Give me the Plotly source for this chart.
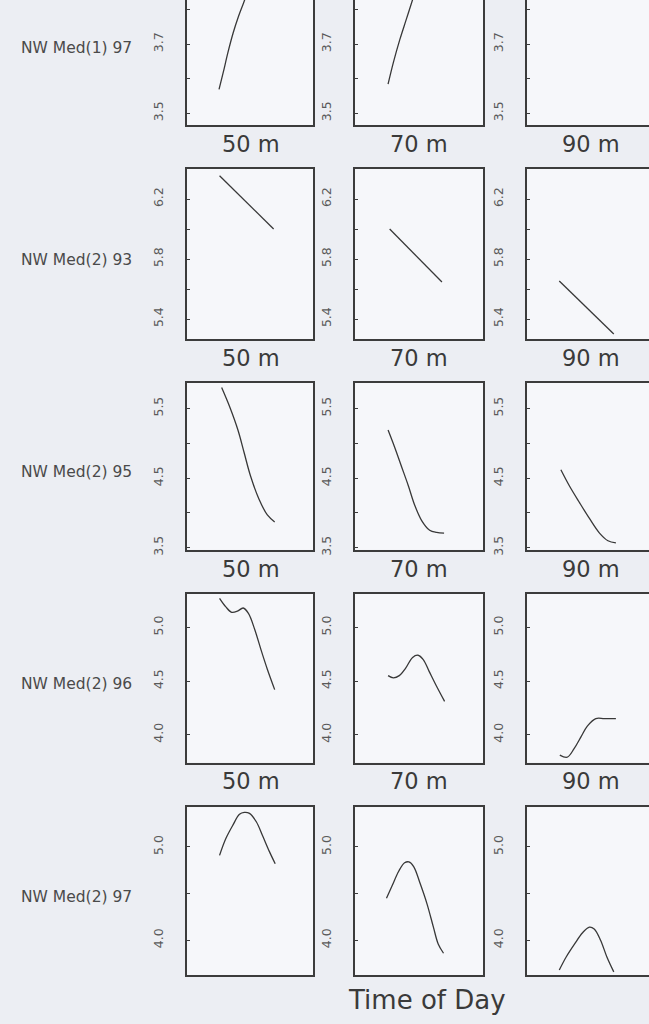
import plotly.graph_objects as go

W, H = 649, 1024

depth_labels = ["50 m", "70 m", "90 m"]
row_labels = ["NW Med(1) 97", "NW Med(2) 93", "NW Med(2) 95", "NW Med(2) 96", "NW Med(2) 97"]
x_title = "Time of Day"

# ---- data: hour of day and value, per row (station/year) and depth ----
r1_50_hour = [6.1, 6.9, 7.8, 8.8, 9.8, 11.0, 11.8]
r1_50_val = [3.569, 3.618, 3.676, 3.733, 3.780, 3.829, 3.870]
r1_70_hour = [6.2, 7.2, 8.4, 9.6, 10.8, 11.4]
r1_70_val = [3.584, 3.647, 3.713, 3.771, 3.829, 3.860]
r1_90_hour = []
r1_90_val = []

r2_50_hour = [6.2, 16.5]
r2_50_val = [6.355, 6.00]
r2_70_hour = [6.5, 16.3]
r2_70_val = [6.00, 5.647]
r2_90_hour = [6.1, 16.4]
r2_90_val = [5.653, 5.30]

r3_50_hour = [6.6, 8.2, 9.7, 10.9, 12.1, 13.7, 15.3, 16.7]
r3_50_val = [5.80, 5.51, 5.19, 4.86, 4.53, 4.20, 3.97, 3.87]
r3_70_hour = [6.2, 7.4, 8.7, 10.0, 11.2, 12.5, 14.0, 15.3, 16.7]
r3_70_val = [5.19, 4.95, 4.67, 4.39, 4.11, 3.89, 3.75, 3.72, 3.71]
r3_90_hour = [6.4, 8.0, 9.9, 11.8, 13.7, 15.3, 16.8]
r3_90_val = [4.62, 4.39, 4.15, 3.92, 3.71, 3.60, 3.57]

r4_50_hour = [6.2, 7.4, 8.5, 9.6, 10.7, 11.7, 12.9, 14.1, 15.3, 16.7]
r4_50_val = [5.27, 5.19, 5.14, 5.15, 5.18, 5.13, 4.98, 4.79, 4.61, 4.42]
r4_70_hour = [6.2, 7.2, 8.3, 9.5, 10.8, 11.8, 12.8, 13.9, 15.1, 16.8]
r4_70_val = [4.55, 4.53, 4.55, 4.62, 4.72, 4.74, 4.70, 4.59, 4.47, 4.31]
r4_90_hour = [6.2, 7.6, 8.9, 10.2, 11.4, 13.0, 14.6, 16.8]
r4_90_val = [3.81, 3.79, 3.87, 3.98, 4.08, 4.15, 4.15, 4.15]

r5_50_hour = [6.2, 7.4, 8.7, 10.0, 10.9, 11.9, 13.2, 14.4, 15.7, 16.8]
r5_50_val = [4.91, 5.09, 5.23, 5.35, 5.37, 5.36, 5.27, 5.12, 4.95, 4.82]
r5_70_hour = [5.9, 7.0, 8.2, 9.3, 10.1, 11.0, 12.2, 13.5, 14.7, 15.6, 16.6]
r5_70_val = [4.45, 4.59, 4.74, 4.83, 4.84, 4.79, 4.61, 4.39, 4.14, 3.96, 3.86]
r5_90_hour = [6.1, 7.4, 9.0, 10.5, 11.8, 12.7, 13.9, 15.1, 16.4]
r5_90_val = [3.68, 3.82, 3.96, 4.08, 4.14, 4.12, 4.00, 3.82, 3.66]

series = [
    [(r1_50_hour, r1_50_val), (r1_70_hour, r1_70_val), (r1_90_hour, r1_90_val)],
    [(r2_50_hour, r2_50_val), (r2_70_hour, r2_70_val), (r2_90_hour, r2_90_val)],
    [(r3_50_hour, r3_50_val), (r3_70_hour, r3_70_val), (r3_90_hour, r3_90_val)],
    [(r4_50_hour, r4_50_val), (r4_70_hour, r4_70_val), (r4_90_hour, r4_90_val)],
    [(r5_50_hour, r5_50_val), (r5_70_hour, r5_70_val), (r5_90_hour, r5_90_val)],
]

# y axis settings per row: range, labelled tick step, tick0, minor step
y_ranges = [[3.465, 3.828], [5.267, 6.40], [3.47, 5.87], [3.741, 5.315], [3.624, 5.426]]
y_dtick = [0.2, 0.4, 1.0, 0.5, 1.0]
y_tick0 = [3.5, 5.4, 3.5, 4.0, 4.0]
y_minor = [0.1, 0.2, 0.5, None, 0.5]

# ---- layout geometry (pixels) ----
col_px = [(187, 313), (355, 483), (527, 649)]
full_w = 127
row_px = [(0, 126), (170, 341), (385, 553), (597, 767), (812, 981)]

def px_x(p):
    return p / W

def px_y(p):
    return 1 - p / H

FONT = "DejaVu Sans, Liberation Sans, Arial, sans-serif"
AX = "#3c3c3c"
LINE = "#383838"

fig = go.Figure()
layout = dict(
    width=W, height=H,
    margin=dict(l=0, r=0, t=0, b=0),
    paper_bgcolor="#eceef3",
    plot_bgcolor="#f6f7fa",
    showlegend=False,
    font=dict(family=FONT, color="#444"),
)

annotations = []
for r in range(5):
    for c in range(3):
        k = r * 3 + c + 1
        xs, ys = series[r][c]
        xname = "x" if k == 1 else f"x{k}"
        yname = "y" if k == 1 else f"y{k}"
        if len(xs):
            fig.add_trace(go.Scatter(
                x=xs, y=ys, mode="lines", xaxis=xname, yaxis=yname,
                line=dict(color=LINE, width=1.3, shape="spline", smoothing=1.0),
                hoverinfo="skip", cliponaxis=True,
            ))
        else:
            fig.add_trace(go.Scatter(x=[None], y=[None], mode="lines",
                                     xaxis=xname, yaxis=yname, hoverinfo="skip"))
        x0, x1 = col_px[c]
        y0, y1 = row_px[r]
        xr = [0, 24] if c < 2 else [0, 24 * (x1 - x0) / full_w]
        xa = dict(
            domain=[px_x(x0), px_x(x1)], range=xr, anchor=yname,
            showline=True, linecolor=AX, linewidth=1.6,
            mirror=(r > 0), showgrid=False, zeroline=False,
            showticklabels=False, ticks="",
        )
        ya = dict(
            domain=[px_y(y1), px_y(y0)], range=y_ranges[r], anchor=xname,
            showline=True, linecolor=AX, linewidth=1.6,
            mirror=(c < 2), showgrid=False, zeroline=False,
            tick0=y_tick0[r], dtick=y_dtick[r], tickformat=".1f",
            ticks="inside", ticklen=3, tickcolor=AX, tickwidth=1,
            tickangle=-90, ticklabelstandoff=17,
            tickfont=dict(family=FONT, size=12.5, color="#5a5a5a"),
        )
        if y_minor[r]:
            ya["minor"] = dict(dtick=y_minor[r], tick0=y_tick0[r], ticks="inside",
                               ticklen=3, tickcolor=AX, tickwidth=1)
        layout["xaxis" if k == 1 else f"xaxis{k}"] = xa
        layout["yaxis" if k == 1 else f"yaxis{k}"] = ya

        if r < 4:
            cx = (x0 + (x0 + full_w)) / 2
            annotations.append(dict(
                text=depth_labels[c], x=px_x(cx), y=px_y(y1 + 19),
                xref="paper", yref="paper", showarrow=False,
                xanchor="center", yanchor="middle",
                font=dict(family=FONT, size=22.5, color="#3a3a3a"),
            ))
    cy = (row_px[r][0] + row_px[r][1]) / 2 + 6
    if r == 0:
        cy = 48
    annotations.append(dict(
        text=row_labels[r], x=px_x(134), y=px_y(cy),
        xref="paper", yref="paper", showarrow=False,
        xanchor="right", yanchor="middle",
        font=dict(family=FONT, size=15.5, color="#4a4a4a"),
    ))

annotations.append(dict(
    text=x_title, x=px_x(427), y=px_y(1006),
    xref="paper", yref="paper", showarrow=False,
    xanchor="center", yanchor="middle",
    font=dict(family=FONT, size=26, color="#3a3a3a"),
))

layout["annotations"] = annotations
fig.update_layout(**layout)
fig.write_html("out.html")
